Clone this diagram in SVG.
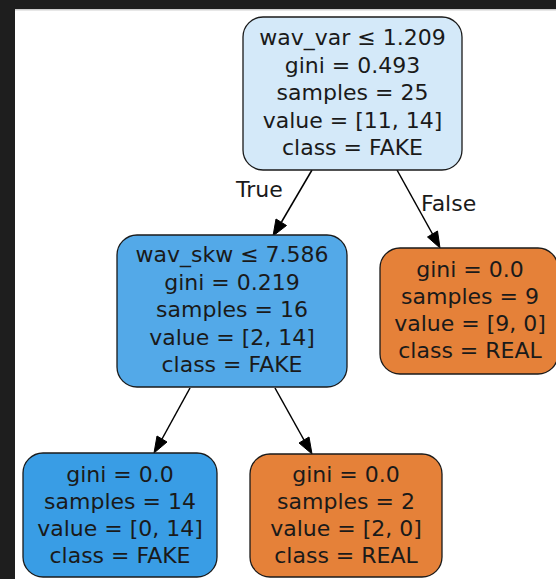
<svg xmlns="http://www.w3.org/2000/svg" width="556" height="579" viewBox="0 0 556 579">
<style>
.bg{fill:#ffffff}
.frame{fill:#1e1e1e}
.node rect{stroke:#1a1a1a;stroke-width:1.3}
.node text,.lbl{font-family:"DejaVu Sans",sans-serif;font-size:22px;fill:#1a1a1a;text-anchor:middle}
.lbl{text-anchor:start}
.edge line{stroke:#000;stroke-width:1.5}
.edge polygon{fill:#000;stroke:#000;stroke-width:1}
</style>
<rect class="bg" x="0" y="0" width="556" height="579"/>
<rect class="frame" x="0" y="0" width="556" height="9"/>
<rect x="15" y="9" width="541" height="1.5" fill="#cfcfcf"/>
<rect class="frame" x="0" y="0" width="15" height="579"/>

<g id="connectors" class="edge">
  <line x1="312" y1="170" x2="281.5" y2="222"/>
  <polygon points="273,236 286.5,225.5 276,219"/>
  <text class="lbl" x="236" y="197">True</text>
  <line x1="397" y1="170" x2="432.5" y2="234"/>
  <polygon points="440,248 437.5,231 427.5,237"/>
  <text class="lbl" x="421" y="211">False</text>
  <line x1="190" y1="388" x2="162" y2="439"/>
  <polygon points="154,453 167,442 157,436"/>
  <line x1="275" y1="388" x2="304" y2="440"/>
  <polygon points="312,454 309,437 299,443"/>
</g>

<g id="node0" class="node">
  <rect x="243" y="17" width="219" height="153" rx="20" ry="20" fill="#d4e9f9"/>
  <text x="352.5" y="45">wav_var ≤ 1.209</text>
  <text x="352.5" y="72.5">gini = 0.493</text>
  <text x="352.5" y="100">samples = 25</text>
  <text x="352.5" y="127.5">value = [11, 14]</text>
  <text x="352.5" y="155">class = FAKE</text>
</g>

<g id="node1" class="node">
  <rect x="117" y="235" width="230" height="152" rx="20" ry="20" fill="#53a9e8"/>
  <text x="232" y="262">wav_skw ≤ 7.586</text>
  <text x="232" y="289.5">gini = 0.219</text>
  <text x="232" y="317">samples = 16</text>
  <text x="232" y="344.5">value = [2, 14]</text>
  <text x="232" y="372">class = FAKE</text>
</g>

<g id="node4" class="node">
  <rect x="380" y="248" width="178" height="126" rx="20" ry="20" fill="#e58139"/>
  <text x="470" y="277">gini = 0.0</text>
  <text x="470" y="304">samples = 9</text>
  <text x="470" y="331">value = [9, 0]</text>
  <text x="470" y="358">class = REAL</text>
</g>

<g id="node2" class="node">
  <rect x="23" y="453" width="194" height="124" rx="20" ry="20" fill="#399de5"/>
  <text x="120" y="482">gini = 0.0</text>
  <text x="120" y="509">samples = 14</text>
  <text x="120" y="536">value = [0, 14]</text>
  <text x="120" y="563">class = FAKE</text>
</g>

<g id="node3" class="node">
  <rect x="250" y="454" width="192" height="123" rx="20" ry="20" fill="#e58139"/>
  <text x="346" y="482">gini = 0.0</text>
  <text x="346" y="509">samples = 2</text>
  <text x="346" y="536">value = [2, 0]</text>
  <text x="346" y="563">class = REAL</text>
</g>
</svg>
